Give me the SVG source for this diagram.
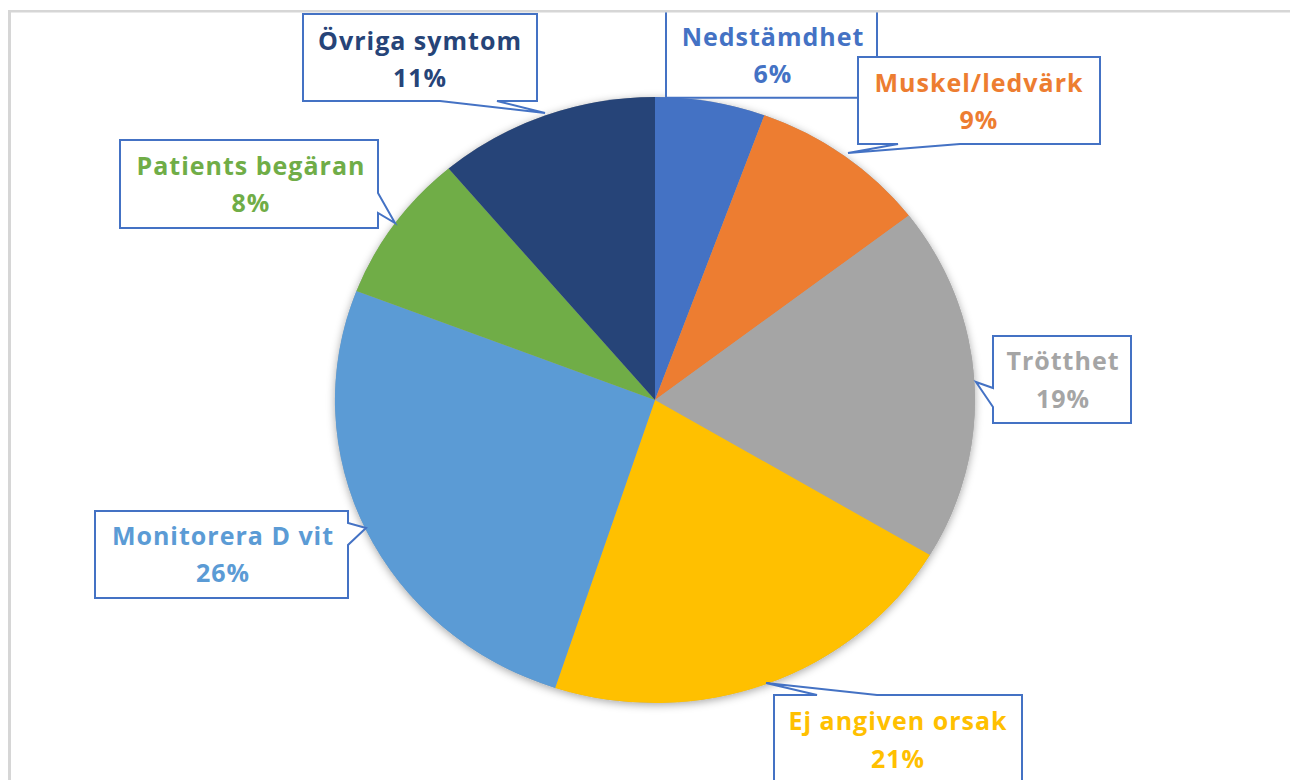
<svg xmlns="http://www.w3.org/2000/svg" width="1290" height="780" viewBox="0 0 1290 780">
<defs>
<filter id="sh" x="-10%" y="-10%" width="120%" height="120%">
<feDropShadow dx="0" dy="2" stdDeviation="4" flood-color="#000" flood-opacity="0.35"/>
</filter>
<style>
.box{fill:#fff;stroke:#4472C4;stroke-width:2;stroke-linejoin:miter}
.t{font-family:"Open Sans","Liberation Sans",sans-serif;font-weight:bold;font-size:25px;letter-spacing:1px;text-anchor:middle}
</style>
</defs>
<rect width="1290" height="780" fill="#fff"/>
<g id="pie">
<ellipse cx="655" cy="400" rx="320" ry="303" fill="#A5A5A5" filter="url(#sh)"/>
<path d="M655,400 L655,97 A320,303 0 0 1 764.4,115.3 Z" fill="#4472C4"/>
<path d="M655,400 L764.4,115.3 A320,303 0 0 1 908.9,215.5 Z" fill="#ED7D31"/>
<path d="M655,400 L908.9,215.5 A320,303 0 0 1 929.9,555.1 Z" fill="#A5A5A5"/>
<path d="M655,400 L929.9,555.1 A320,303 0 0 1 555.1,687.9 Z" fill="#FFC000"/>
<path d="M655,400 L555.1,687.9 A320,303 0 0 1 356.4,290.9 Z" fill="#5B9BD5"/>
<path d="M655,400 L356.4,290.9 A320,303 0 0 1 448.6,168.6 Z" fill="#70AD47"/>
<path d="M655,400 L448.6,168.6 A320,303 0 0 1 655,97 Z" fill="#264478"/>
</g>
<g id="label-nedstamdhet">
<path class="box" d="M666,2 L877,2 L877,97.7 L666,97.7 Z"/>
<text class="t" x="773" y="46" fill="#4472C4">Nedstämdhet</text>
<text class="t" x="773" y="83" fill="#4472C4">6%</text>
</g>
<g id="label-muskel">
<path class="box" d="M858,57 L1100,57 L1100,144 L960,144 L848,153 L898,144 L858,144 Z"/>
<text class="t" x="979" y="92" fill="#ED7D31">Muskel/ledvärk</text>
<text class="t" x="979" y="128.5" fill="#ED7D31">9%</text>
</g>
<g id="label-trotthet">
<path class="box" d="M993,336 L1131,336 L1131,423 L993,423 L993,407 L976,382 L993,388 Z"/>
<text class="t" x="1063" y="370" fill="#A5A5A5">Trötthet</text>
<text class="t" x="1063" y="408" fill="#A5A5A5">19%</text>
</g>
<g id="label-ej">
<path class="box" d="M774,695 L817,695 L766,683 L877,695 L1022,695 L1022,795 L774,795 Z"/>
<text class="t" x="898" y="730" fill="#FFC000">Ej angiven orsak</text>
<text class="t" x="898" y="768" fill="#FFC000">21%</text>
</g>
<g id="label-monitorera">
<path class="box" d="M95,511 L348,511 L348,523 L366,528 L348,545 L348,598 L95,598 Z"/>
<text class="t" x="223" y="545" fill="#5B9BD5">Monitorera D vit</text>
<text class="t" x="223" y="582" fill="#5B9BD5">26%</text>
</g>
<g id="label-patients">
<path class="box" d="M120,140 L378,140 L378,193 L395,223 L378,213 L378,228 L120,228 Z"/>
<text class="t" x="251" y="175" fill="#70AD47">Patients begäran</text>
<text class="t" x="251" y="212" fill="#70AD47">8%</text>
</g>
<g id="label-ovriga">
<path class="box" d="M303,14 L537,14 L537,101 L497,101 L545,113 L440,101 L303,101 Z"/>
<text class="t" x="420" y="50" fill="#264478">Övriga symtom</text>
<text class="t" x="420" y="87" fill="#264478">11%</text>
</g>
<g id="frame">
<rect x="0" y="0" width="1290" height="10" fill="#fff"/>
<rect x="8" y="10" width="1282" height="2.5" fill="#d6d6d6"/>
<rect x="8" y="10" width="3" height="770" fill="#d6d6d6"/>
</g>
</svg>
